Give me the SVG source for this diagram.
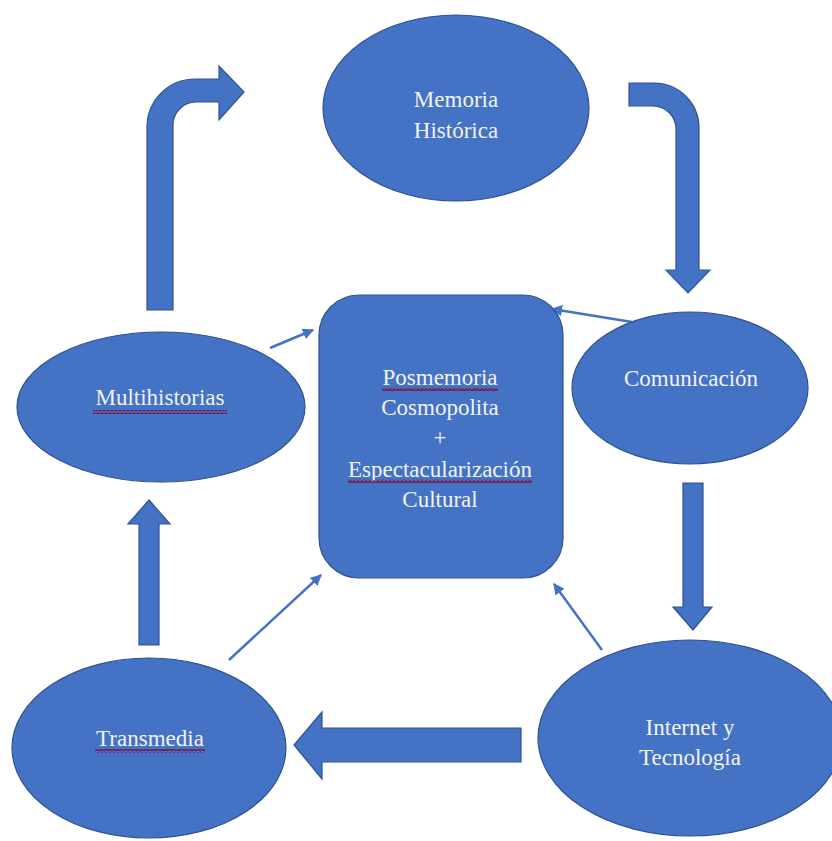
<svg xmlns="http://www.w3.org/2000/svg" width="832" height="841" viewBox="0 0 832 841">
  <defs>
    <style>
      .shape { fill: #4472C4; stroke: #2F528F; stroke-width: 1.2; }
      .lbl { font-family: "Liberation Serif", "DejaVu Serif", serif; font-size: 23px; fill: #F2F2F2; text-anchor: middle; }
      .conn { stroke: #4472C4; stroke-width: 2.5; fill: none; marker-end: url(#tip); }
      .squig { fill: url(#wave); }
    </style>
    <marker id="tip" viewBox="0 0 10 10" refX="9" refY="5" markerWidth="4.5" markerHeight="4.5" markerUnits="strokeWidth" orient="auto">
      <path d="M0,0 L10,5 L0,10 Z" fill="#4472C4"/>
    </marker>
    <pattern id="wave" x="0" y="0" width="4" height="4" patternUnits="userSpaceOnUse">
      <path d="M0,3 L2,1 L4,3" fill="none" stroke="#7E1A4E" stroke-width="1.6"/>
    </pattern>
  </defs>
  <rect width="832" height="841" fill="#FFFFFF"/>

  <g id="connectors">
    <path id="arrow-multi-memoria" class="shape" d="M147,310 L147,127 A48,48 0 0 1 195,79 L219,79 L219,66 L244,92 L219,120 L219,102 L196,102 A23,23 0 0 0 173,125 L173,310 Z"/>
    <path id="arrow-memoria-comunicacion" class="shape" d="M629,83 L654,83 A45,45 0 0 1 699,128 L699,270 L710,270 L688,293 L666,270 L676,270 L676,129 A23,23 0 0 0 653,106 L629,106 Z"/>
    <path id="arrow-comunicacion-internet" class="shape" d="M683,483 L703,483 L703,607 L712,607 L693,630 L673,607 L683,607 Z"/>
    <path id="arrow-internet-transmedia" class="shape" d="M521,728 L521,762 L322,762 L322,779 L294,745 L322,712 L322,728 Z"/>
    <path id="arrow-transmedia-multi" class="shape" d="M139,645 L139,524 L128,524 L149,500 L170,524 L159,524 L159,645 Z"/>
    <line class="conn" x1="270" y1="348" x2="313" y2="330"/>
    <line class="conn" x1="632" y1="322" x2="552" y2="309"/>
    <line class="conn" x1="229" y1="660" x2="321" y2="575"/>
    <line class="conn" x1="602" y1="650" x2="554" y2="584"/>
  </g>

  <g id="memoria">
    <ellipse class="shape" cx="456" cy="108" rx="133" ry="93"/>
    <text class="lbl" x="456" y="107">Memoria</text>
    <text class="lbl" x="456" y="138">Histórica</text>
  </g>

  <g id="centro">
    <rect class="shape" x="319" y="295" width="244" height="283" rx="40" ry="40"/>
    <text class="lbl" x="440" y="385">Posmemoria</text>
    <rect class="squig" x="382" y="387" width="116" height="4"/>
    <text class="lbl" x="440" y="415">Cosmopolita</text>
    <text class="lbl" x="440" y="445">+</text>
    <text class="lbl" x="440" y="477">Espectacularización</text>
    <rect class="squig" x="348" y="479" width="184" height="4"/>
    <text class="lbl" x="440" y="507">Cultural</text>
  </g>

  <g id="comunicacion">
    <ellipse class="shape" cx="690" cy="388" rx="118" ry="76"/>
    <text class="lbl" x="691" y="386">Comunicación</text>
  </g>

  <g id="internet">
    <ellipse class="shape" cx="690" cy="738" rx="152" ry="98"/>
    <text class="lbl" x="690" y="735">Internet y</text>
    <text class="lbl" x="690" y="765">Tecnología</text>
  </g>

  <g id="transmedia">
    <ellipse class="shape" cx="149" cy="748" rx="137" ry="90"/>
    <text class="lbl" x="150" y="746">Transmedia</text>
    <rect class="squig" x="95" y="749" width="110" height="4"/>
  </g>

  <g id="multihistorias">
    <ellipse class="shape" cx="161" cy="407" rx="144" ry="75"/>
    <text class="lbl" x="160" y="405">Multihistorias</text>
    <rect class="squig" x="93" y="410" width="134" height="4"/>
  </g>
</svg>
